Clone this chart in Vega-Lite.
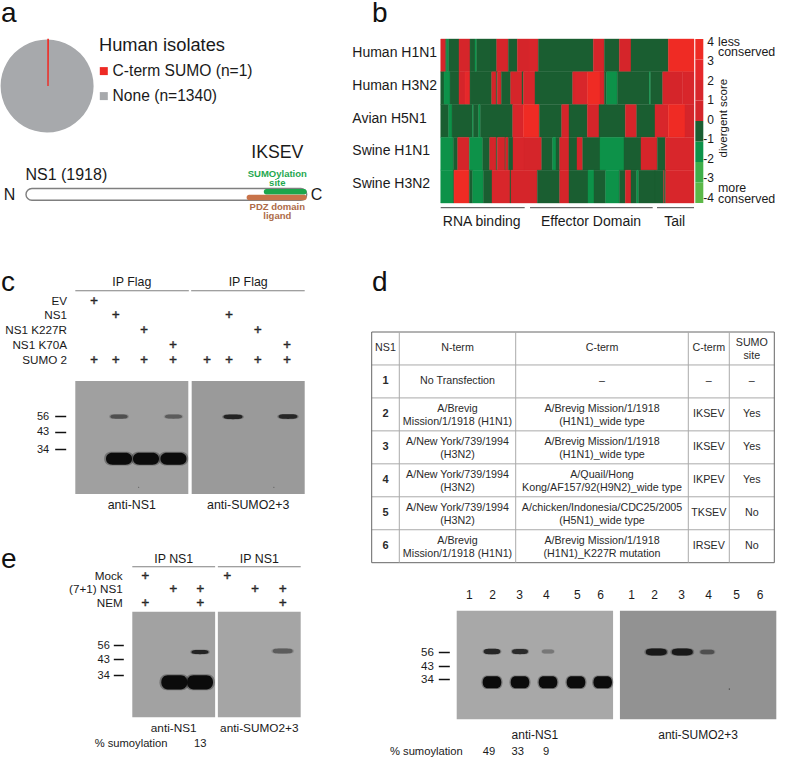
{"$schema":"https://vega.github.io/schema/vega-lite/v6.json","width":800,"height":758,"autosize":{"type":"none"},"padding":0,"background":"white",
"config":{"font":"Liberation Sans","view":{"stroke":null},"text":{"color":"#1a1a1a","baseline":"middle","font":"Liberation Sans","lineBreak":"\n"}},
"datasets":{
"letters":[{"letter":"a","col":1,"row":1},{"letter":"b","col":2,"row":1},{"letter":"c","col":1,"row":2},{"letter":"d","col":2,"row":2},{"letter":"e","col":1,"row":3}],
"isolates":[{"panel":"a","group":"None (n=1340)","n":1340},{"panel":"a","group":"C-term SUMO (n=1)","n":1}],
"sites":[{"feature":"SUMOylation site","start":195,"end":230,"label":"SUMOylation\nsite","residue":206,"level":2.1},{"feature":"PDZ domain ligand","start":181,"end":230,"label":"PDZ domain\nligand","residue":206,"level":-1.15}],
"heat":[
{"r":"Human H1N1","s":0,"e":15,"v":0.5},{"r":"Human H1N1","s":15,"e":18,"v":-0.5},{"r":"Human H1N1","s":18,"e":24,"v":-1.5},{"r":"Human H1N1","s":24,"e":55,"v":-0.5},{"r":"Human H1N1","s":55,"e":88,"v":0.5},{"r":"Human H1N1","s":88,"e":103,"v":-0.5},{"r":"Human H1N1","s":103,"e":108,"v":-1.5},{"r":"Human H1N1","s":108,"e":168,"v":-0.5},{"r":"Human H1N1","s":168,"e":203,"v":0.5},{"r":"Human H1N1","s":203,"e":230,"v":-0.5},{"r":"Human H1N1","s":230,"e":265,"v":0.5},{"r":"Human H1N1","s":265,"e":293,"v":1.5},{"r":"Human H1N1","s":293,"e":458,"v":-0.5},{"r":"Human H1N1","s":458,"e":491,"v":0.5},{"r":"Human H1N1","s":491,"e":536,"v":-0.5},{"r":"Human H1N1","s":536,"e":571,"v":0.5},{"r":"Human H1N1","s":571,"e":683,"v":-0.5},{"r":"Human H1N1","s":683,"e":760,"v":3.5},
{"r":"Human H3N2","s":0,"e":10,"v":-0.5},{"r":"Human H3N2","s":10,"e":28,"v":-1.5},{"r":"Human H3N2","s":28,"e":55,"v":-0.5},{"r":"Human H3N2","s":55,"e":73,"v":0.5},{"r":"Human H3N2","s":73,"e":88,"v":2.5},{"r":"Human H3N2","s":88,"e":153,"v":-0.5},{"r":"Human H3N2","s":153,"e":167,"v":0.5},{"r":"Human H3N2","s":167,"e":170,"v":-0.5},{"r":"Human H3N2","s":170,"e":182,"v":0.5},{"r":"Human H3N2","s":182,"e":210,"v":-0.5},{"r":"Human H3N2","s":210,"e":244,"v":0.5},{"r":"Human H3N2","s":244,"e":248,"v":-0.5},{"r":"Human H3N2","s":248,"e":283,"v":1.5},{"r":"Human H3N2","s":283,"e":396,"v":-0.5},{"r":"Human H3N2","s":396,"e":403,"v":0.5},{"r":"Human H3N2","s":403,"e":441,"v":1.5},{"r":"Human H3N2","s":441,"e":478,"v":3.5},{"r":"Human H3N2","s":478,"e":491,"v":1.5},{"r":"Human H3N2","s":491,"e":498,"v":-0.5},{"r":"Human H3N2","s":498,"e":530,"v":-1.5},{"r":"Human H3N2","s":530,"e":626,"v":-0.5},{"r":"Human H3N2","s":626,"e":630,"v":-1.5},{"r":"Human H3N2","s":630,"e":666,"v":-0.5},{"r":"Human H3N2","s":666,"e":726,"v":0.5},{"r":"Human H3N2","s":726,"e":760,"v":1.5},
{"r":"Avian H5N1","s":0,"e":24,"v":-0.5},{"r":"Avian H5N1","s":24,"e":34,"v":-1.5},{"r":"Avian H5N1","s":34,"e":95,"v":-0.5},{"r":"Avian H5N1","s":95,"e":98,"v":-1.5},{"r":"Avian H5N1","s":98,"e":114,"v":-0.5},{"r":"Avian H5N1","s":114,"e":119,"v":-1.5},{"r":"Avian H5N1","s":119,"e":216,"v":-0.5},{"r":"Avian H5N1","s":216,"e":248,"v":1.5},{"r":"Avian H5N1","s":248,"e":296,"v":3.5},{"r":"Avian H5N1","s":296,"e":363,"v":-0.5},{"r":"Avian H5N1","s":363,"e":385,"v":0.5},{"r":"Avian H5N1","s":385,"e":440,"v":-0.5},{"r":"Avian H5N1","s":440,"e":475,"v":0.5},{"r":"Avian H5N1","s":475,"e":554,"v":-0.5},{"r":"Avian H5N1","s":554,"e":588,"v":0.5},{"r":"Avian H5N1","s":588,"e":643,"v":-0.5},{"r":"Avian H5N1","s":643,"e":683,"v":1.5},{"r":"Avian H5N1","s":683,"e":733,"v":3.5},{"r":"Avian H5N1","s":733,"e":760,"v":0.5},
{"r":"Swine H1N1","s":0,"e":38,"v":-1.5},{"r":"Swine H1N1","s":38,"e":51,"v":-0.5},{"r":"Swine H1N1","s":51,"e":86,"v":0.5},{"r":"Swine H1N1","s":86,"e":126,"v":-1.5},{"r":"Swine H1N1","s":126,"e":147,"v":-0.5},{"r":"Swine H1N1","s":147,"e":167,"v":0.5},{"r":"Swine H1N1","s":167,"e":170,"v":-0.5},{"r":"Swine H1N1","s":170,"e":193,"v":0.5},{"r":"Swine H1N1","s":193,"e":195,"v":-0.5},{"r":"Swine H1N1","s":195,"e":203,"v":0.5},{"r":"Swine H1N1","s":203,"e":217,"v":-0.5},{"r":"Swine H1N1","s":217,"e":250,"v":1.5},{"r":"Swine H1N1","s":250,"e":303,"v":0.5},{"r":"Swine H1N1","s":303,"e":336,"v":-0.5},{"r":"Swine H1N1","s":336,"e":346,"v":-1.5},{"r":"Swine H1N1","s":346,"e":357,"v":-0.5},{"r":"Swine H1N1","s":357,"e":385,"v":0.5},{"r":"Swine H1N1","s":385,"e":409,"v":-0.5},{"r":"Swine H1N1","s":409,"e":426,"v":0.5},{"r":"Swine H1N1","s":426,"e":478,"v":-0.5},{"r":"Swine H1N1","s":478,"e":550,"v":-1.5},{"r":"Swine H1N1","s":550,"e":601,"v":-0.5},{"r":"Swine H1N1","s":601,"e":650,"v":0.5},{"r":"Swine H1N1","s":650,"e":674,"v":-0.5},{"r":"Swine H1N1","s":674,"e":760,"v":1.5},
{"r":"Swine H3N2","s":0,"e":38,"v":-1.5},{"r":"Swine H3N2","s":38,"e":40,"v":-0.5},{"r":"Swine H3N2","s":40,"e":86,"v":3.5},{"r":"Swine H3N2","s":86,"e":96,"v":-0.5},{"r":"Swine H3N2","s":96,"e":128,"v":-1.5},{"r":"Swine H3N2","s":128,"e":154,"v":-0.5},{"r":"Swine H3N2","s":154,"e":208,"v":1.5},{"r":"Swine H3N2","s":208,"e":211,"v":-0.5},{"r":"Swine H3N2","s":211,"e":290,"v":0.5},{"r":"Swine H3N2","s":290,"e":357,"v":-0.5},{"r":"Swine H3N2","s":357,"e":385,"v":0.5},{"r":"Swine H3N2","s":385,"e":442,"v":-0.5},{"r":"Swine H3N2","s":442,"e":460,"v":-1.5},{"r":"Swine H3N2","s":460,"e":495,"v":-0.5},{"r":"Swine H3N2","s":495,"e":536,"v":-1.5},{"r":"Swine H3N2","s":536,"e":554,"v":-0.5},{"r":"Swine H3N2","s":554,"e":571,"v":0.5},{"r":"Swine H3N2","s":571,"e":588,"v":-0.5},{"r":"Swine H3N2","s":588,"e":594,"v":-1.5},{"r":"Swine H3N2","s":594,"e":643,"v":-0.5},{"r":"Swine H3N2","s":643,"e":669,"v":-0.5},{"r":"Swine H3N2","s":669,"e":671,"v":0.5},{"r":"Swine H3N2","s":671,"e":675,"v":-0.5},{"r":"Swine H3N2","s":675,"e":760,"v":1.5}
],
"scoreBins":[{"bar":"score","lo":-4,"hi":-3,"v":-3.5},{"bar":"score","lo":-3,"hi":-2,"v":-2.5},{"bar":"score","lo":-2,"hi":-1,"v":-1.5},{"bar":"score","lo":-1,"hi":0,"v":-0.5},{"bar":"score","lo":0,"hi":1,"v":0.5},{"bar":"score","lo":1,"hi":2,"v":1.5},{"bar":"score","lo":2,"hi":3,"v":2.5},{"bar":"score","lo":3,"hi":4,"v":3.5}],
"scoreTicks":[{"bar":"score","t":"4","v":4},{"bar":"score","t":"3","v":3},{"bar":"score","t":"2","v":2},{"bar":"score","t":"1","v":1},{"bar":"score","t":"0","v":0},{"bar":"score","t":"-1","v":-1},{"bar":"score","t":"-2","v":-2},{"bar":"score","t":"-3","v":-3},{"bar":"score","t":"-4","v":-4}],
"regions":[{"name":"RNA binding","s":0,"e":252,"m":123},{"name":"Effector Domain","s":268,"e":636,"m":451},{"name":"Tail","s":649,"e":760,"m":702}],
"gels":[{"panel":"c","gel":"anti-NS1","ip":"IP Flag"},{"panel":"c","gel":"anti-SUMO2+3","ip":"IP Flag"},{"panel":"e","gel":"anti-NS1","ip":"IP NS1"},{"panel":"e","gel":"anti-SUMO2+3","ip":"IP NS1"},{"panel":"d","gel":"anti-NS1"},{"panel":"d","gel":"anti-SUMO2+3"}],
"conds":[{"panel":"c","cond":"EV"},{"panel":"c","cond":"NS1"},{"panel":"c","cond":"NS1 K227R"},{"panel":"c","cond":"NS1 K70A"},{"panel":"c","cond":"SUMO 2"},{"panel":"e","cond":"Mock"},{"panel":"e","cond":"(7+1) NS1"},{"panel":"e","cond":"NEM"}],
"plus":[{"panel":"c","cond":"EV","lane":1},{"panel":"c","cond":"NS1","lane":2},{"panel":"c","cond":"NS1","lane":6},{"panel":"c","cond":"NS1 K227R","lane":3},{"panel":"c","cond":"NS1 K227R","lane":7},{"panel":"c","cond":"NS1 K70A","lane":4},{"panel":"c","cond":"NS1 K70A","lane":8},{"panel":"c","cond":"SUMO 2","lane":1},{"panel":"c","cond":"SUMO 2","lane":2},{"panel":"c","cond":"SUMO 2","lane":3},{"panel":"c","cond":"SUMO 2","lane":4},{"panel":"c","cond":"SUMO 2","lane":5},{"panel":"c","cond":"SUMO 2","lane":6},{"panel":"c","cond":"SUMO 2","lane":7},{"panel":"c","cond":"SUMO 2","lane":8},
{"panel":"e","cond":"Mock","lane":1},{"panel":"e","cond":"Mock","lane":4},{"panel":"e","cond":"(7+1) NS1","lane":2},{"panel":"e","cond":"(7+1) NS1","lane":3},{"panel":"e","cond":"(7+1) NS1","lane":5},{"panel":"e","cond":"(7+1) NS1","lane":6},{"panel":"e","cond":"NEM","lane":1},{"panel":"e","cond":"NEM","lane":3},{"panel":"e","cond":"NEM","lane":6}],
"bands":[
{"panel":"c","lane":2,"kDa":55.5,"signal":0.45,"species":"SUMO-NS1"},{"panel":"c","lane":4,"kDa":55.5,"signal":0.4,"species":"SUMO-NS1"},{"panel":"c","lane":6,"kDa":55.3,"signal":0.7,"species":"SUMO-NS1"},{"panel":"c","lane":8,"kDa":55.5,"signal":0.65,"species":"SUMO-NS1"},{"panel":"c","lane":2,"kDa":29.2,"signal":1,"species":"NS1"},{"panel":"c","lane":3,"kDa":29.2,"signal":1,"species":"NS1"},{"panel":"c","lane":4,"kDa":29.2,"signal":1,"species":"NS1"},{"panel":"c","lane":2.73,"kDa":14.6,"signal":0.5,"species":"speck"},{"panel":"c","lane":7.53,"kDa":14.6,"signal":0.5,"species":"speck"},
{"panel":"e","lane":3,"kDa":49.5,"signal":0.7,"species":"SUMO-NS1"},{"panel":"e","lane":6,"kDa":50.4,"signal":0.4,"species":"SUMO-NS1"},{"panel":"e","lane":2,"kDa":30.1,"signal":1,"species":"NS1"},{"panel":"e","lane":3,"kDa":30.1,"signal":1,"species":"NS1"},
{"panel":"d","lane":2,"kDa":56.7,"signal":0.65,"species":"SUMO-NS1"},{"panel":"d","lane":3,"kDa":56.7,"signal":0.6,"species":"SUMO-NS1"},{"panel":"d","lane":4,"kDa":56.7,"signal":0.3,"species":"SUMO-NS1"},{"panel":"d","lane":8,"kDa":56.3,"signal":0.85,"species":"SUMO-NS1"},{"panel":"d","lane":9,"kDa":56.3,"signal":0.85,"species":"SUMO-NS1"},{"panel":"d","lane":10,"kDa":56.3,"signal":0.45,"species":"SUMO-NS1"},{"panel":"d","lane":2,"kDa":31.7,"signal":1,"species":"NS1"},{"panel":"d","lane":3,"kDa":31.7,"signal":1,"species":"NS1"},{"panel":"d","lane":4,"kDa":31.7,"signal":1,"species":"NS1"},{"panel":"d","lane":5,"kDa":31.7,"signal":1,"species":"NS1"},{"panel":"d","lane":6,"kDa":31.7,"signal":1,"species":"NS1"},{"panel":"d","lane":10.74,"kDa":26.9,"signal":0.6,"species":"speck"}
],
"laneNumbers":[{"lane":1,"t":"1"},{"lane":2,"t":"2"},{"lane":3,"t":"3"},{"lane":4,"t":"4"},{"lane":5,"t":"5"},{"lane":6,"t":"6"},{"lane":7,"t":"1"},{"lane":8,"t":"2"},{"lane":9,"t":"3"},{"lane":10,"t":"4"},{"lane":11,"t":"5"},{"lane":12,"t":"6"}],
"sumoD":[{"lane":-1.18,"t":"% sumoylation","row":"s"},{"lane":2,"t":"49","row":"s"},{"lane":3,"t":"33","row":"s"},{"lane":4,"t":"9","row":"s"}],
"sumoE":[{"lane":0.49,"t":"% sumoylation","row":"s"},{"lane":3,"t":"13","row":"s"}],
"gridV":[{"col":0,"a":0,"b":7,"k":"outer"},{"col":1,"a":0,"b":7,"k":"inner"},{"col":2,"a":0,"b":7,"k":"inner"},{"col":3,"a":0,"b":7,"k":"inner"},{"col":4,"a":0,"b":7,"k":"inner"},{"col":5,"a":0,"b":7,"k":"outer"}],
"gridH":[{"row":0,"a":0,"b":5,"k":"outer"},{"row":1,"a":0,"b":5,"k":"inner"},{"row":2,"a":0,"b":5,"k":"inner"},{"row":3,"a":0,"b":5,"k":"inner"},{"row":4,"a":0,"b":5,"k":"inner"},{"row":5,"a":0,"b":5,"k":"inner"},{"row":6,"a":0,"b":5,"k":"inner"},{"row":7,"a":0,"b":5,"k":"outer"}],
"cells":[
{"row":0.5,"col":0.5,"t":"NS1"},{"row":0.5,"col":1.5,"t":"N-term"},{"row":0.5,"col":2.5,"t":"C-term"},{"row":0.5,"col":3.5,"t":"C-term"},{"row":0.5,"col":4.5,"t":"SUMO\nsite"},
{"row":1.5,"col":1.5,"t":"No Transfection"},{"row":1.5,"col":2.5,"t":"–"},{"row":1.5,"col":3.5,"t":"–"},{"row":1.5,"col":4.5,"t":"–"},
{"row":2.5,"col":1.5,"t":"A/Brevig\nMission/1/1918 (H1N1)"},{"row":2.5,"col":2.5,"t":"A/Brevig Mission/1/1918\n(H1N1)_wide type"},{"row":2.5,"col":3.5,"t":"IKSEV"},{"row":2.5,"col":4.5,"t":"Yes"},
{"row":3.5,"col":1.5,"t":"A/New York/739/1994\n(H3N2)"},{"row":3.5,"col":2.5,"t":"A/Brevig Mission/1/1918\n(H1N1)_wide type"},{"row":3.5,"col":3.5,"t":"IKSEV"},{"row":3.5,"col":4.5,"t":"Yes"},
{"row":4.5,"col":1.5,"t":"A/New York/739/1994\n(H3N2)"},{"row":4.5,"col":2.5,"t":"A/Quail/Hong\nKong/AF157/92(H9N2)_wide type"},{"row":4.5,"col":3.5,"t":"IKPEV"},{"row":4.5,"col":4.5,"t":"Yes"},
{"row":5.5,"col":1.5,"t":"A/New York/739/1994\n(H3N2)"},{"row":5.5,"col":2.5,"t":"A/chicken/Indonesia/CDC25/2005\n(H5N1)_wide type"},{"row":5.5,"col":3.5,"t":"TKSEV"},{"row":5.5,"col":4.5,"t":"No"},
{"row":6.5,"col":1.5,"t":"A/Brevig\nMission/1/1918 (H1N1)"},{"row":6.5,"col":2.5,"t":"A/Brevig Mission/1/1918\n(H1N1)_K227R mutation"},{"row":6.5,"col":3.5,"t":"IRSEV"},{"row":6.5,"col":4.5,"t":"No"}],
"cellNums":[{"row":1.5,"col":0.5,"t":"1"},{"row":2.5,"col":0.5,"t":"2"},{"row":3.5,"col":0.5,"t":"3"},{"row":4.5,"col":0.5,"t":"4"},{"row":5.5,"col":0.5,"t":"5"},{"row":6.5,"col":0.5,"t":"6"}]
},
"layer":[
{"data":{"name":"letters"},"mark":{"type":"text","fontSize":28,"align":"left","baseline":"alphabetic","color":"#111"},"encoding":{"x":{"field":"col","type":"quantitative","scale":{"domain":[1,2],"range":[1,372]},"axis":null},"y":{"field":"row","type":"quantitative","scale":{"domain":[1,2,3],"range":[22,290.7,568]},"axis":null},"text":{"field":"letter"}}},

{"data":{"name":"isolates"},"mark":{"type":"arc","radius":46.5},"encoding":{"theta":{"field":"n","type":"quantitative","scale":{"domain":[0,1341],"range":[0,6.2832]}},"order":{"field":"n","sort":"ascending"},"x":{"field":"panel","type":"nominal","scale":{"type":"point","domain":["a"],"range":[47.2,47.2]},"axis":null},"y":{"field":"panel","type":"nominal","scale":{"type":"point","domain":["a"],"range":[86,86]},"axis":null},"color":{"field":"group","type":"nominal","scale":{"domain":["C-term SUMO (n=1)","None (n=1340)"],"range":["#ee2a24","#a7a9ac"]},"legend":{"orient":"none","legendX":99,"legendY":37,"title":"Human isolates","titleFontSize":18.3,"titleFontWeight":"normal","titleColor":"#1a1a1a","titlePadding":8,"labelFontSize":15.6,"labelColor":"#1a1a1a","symbolType":"square","symbolSize":64,"symbolOffset":-3,"rowPadding":8,"labelOffset":1}}}},
{"data":{"name":"isolates"},"transform":[{"filter":{"field":"n","lte":1}}],"mark":{"type":"arc","radius":46.5,"color":"#ee2a24","stroke":"#ee2a24","strokeWidth":1.4},"encoding":{"theta":{"field":"n","type":"quantitative","scale":{"domain":[0,1341],"range":[0,6.2832]}},"x":{"field":"panel","type":"nominal","scale":{"type":"point","domain":["a"],"range":[48,48]},"axis":null},"y":{"field":"panel","type":"nominal","scale":{"type":"point","domain":["a"],"range":[86,86]},"axis":null}}},

{"data":{"values":[{"feature":"NS1","start":1,"end":230}]},"mark":{"type":"rect","fill":"white","stroke":"#7f7f7f","strokeWidth":1.4,"cornerRadius":6},"encoding":{"x":{"field":"start","type":"quantitative","scale":{"domain":[1,230],"range":[26,306.7]},"axis":null},"x2":{"field":"end"},"y":{"field":"feature","type":"nominal","scale":{"type":"band","domain":["NS1"],"range":[188.5,200.3],"paddingInner":0,"paddingOuter":0},"axis":null}}},
{"data":{"name":"sites"},"mark":{"type":"rect","cornerRadius":2.5},"encoding":{"x":{"field":"start","type":"quantitative","scale":{"domain":[1,230],"range":[26,306.7]},"axis":null},"x2":{"field":"end"},"y":{"field":"feature","type":"nominal","scale":{"type":"band","domain":["SUMOylation site","PDZ domain ligand"],"range":[189,200.3],"paddingInner":0.06,"paddingOuter":0},"axis":null},"color":{"field":"feature","type":"nominal","scale":{"domain":["SUMOylation site","PDZ domain ligand"],"range":["#1ca64c","#c8734a"]},"legend":null}}},
{"data":{"name":"sites"},"mark":{"type":"text","fontSize":9.5,"fontWeight":"bold","lineHeight":9,"align":"center"},"encoding":{"x":{"field":"residue","type":"quantitative","scale":{"domain":[1,230],"range":[26,306.7]},"axis":null},"y":{"field":"level","type":"quantitative","scale":{"domain":[-10,10],"range":[295,95]},"axis":null},"text":{"field":"label"},"color":{"field":"feature","type":"nominal","scale":{"domain":["SUMOylation site","PDZ domain ligand"],"range":["#1fa84f","#ad6b48"]},"legend":null}}},
{"data":{"values":[{"t":"N","residue":-12.5,"level":0},{"t":"C","residue":238,"level":0},{"t":"NS1 (1918)","residue":33.9,"level":1.97}]},"mark":{"type":"text","fontSize":16,"align":"center"},"encoding":{"x":{"field":"residue","type":"quantitative","scale":{"domain":[1,230],"range":[26,306.7]},"axis":null},"y":{"field":"level","type":"quantitative","scale":{"domain":[-10,10],"range":[295,95]},"axis":null},"text":{"field":"t"}}},
{"data":{"values":[{"t":"IKSEV","residue":206,"level":4.2}]},"mark":{"type":"text","fontSize":17.7,"align":"center"},"encoding":{"x":{"field":"residue","type":"quantitative","scale":{"domain":[1,230],"range":[26,306.7]},"axis":null},"y":{"field":"level","type":"quantitative","scale":{"domain":[-10,10],"range":[295,95]},"axis":null},"text":{"field":"t"}}},

{"data":{"name":"heat"},"mark":{"type":"rect","strokeWidth":0.4},"encoding":{"x":{"field":"s","type":"quantitative","scale":{"domain":[0,760],"range":[440.7,694]},"axis":null},"x2":{"field":"e"},"y":{"field":"r","type":"nominal","sort":null,"scale":{"type":"band","domain":["Human H1N1","Human H3N2","Avian H5N1","Swine H1N1","Swine H3N2"],"range":[39,203],"paddingInner":0,"paddingOuter":0},"axis":null},"color":{"field":"v","type":"quantitative","scale":{"type":"threshold","domain":[-3,-2,-1,0,1,2,3],"range":["#5cb848","#3fae49","#0d9249","#1a5e31","#d5252a","#d8262b","#e6282a","#ef2b24"]},"legend":null},"stroke":{"field":"v","type":"quantitative","scale":{"type":"threshold","domain":[-3,-2,-1,0,1,2,3],"range":["#5cb848","#3fae49","#0d9249","#1a5e31","#d5252a","#d8262b","#e6282a","#ef2b24"]},"legend":null}}},
{"data":{"name":"scoreBins"},"mark":{"type":"rect"},"encoding":{"x":{"field":"bar","type":"nominal","scale":{"type":"band","domain":["score"],"range":[695.3,703.3],"paddingInner":0,"paddingOuter":0},"axis":null},"y":{"field":"lo","type":"quantitative","scale":{"domain":[-4,4],"range":[203,39]},"axis":null},"y2":{"field":"hi"},"color":{"field":"v","type":"quantitative","scale":{"type":"threshold","domain":[-3,-2,-1,0,1,2,3],"range":["#5cb848","#3fae49","#0d9249","#1a5e31","#d5252a","#d8262b","#e6282a","#ef2b24"]},"legend":null}}},
{"data":{"name":"scoreTicks"},"mark":{"type":"text","fontSize":12,"align":"right"},"encoding":{"x":{"field":"bar","type":"nominal","scale":{"type":"point","domain":["score"],"range":[714,714]},"axis":null},"y":{"field":"v","type":"quantitative","scale":{"domain":[-4,4],"range":[198,41.7]},"axis":null},"text":{"field":"t"}}},
{"data":{"values":[{"bar":"score","t":"less\nconserved","v":4.0},{"bar":"score","t":"more\nconserved","v":-3.51}]},"mark":{"type":"text","fontSize":12.4,"align":"left","lineHeight":10.5},"encoding":{"x":{"field":"bar","type":"nominal","scale":{"type":"point","domain":["score"],"range":[718,718]},"axis":null},"y":{"field":"v","type":"quantitative","scale":{"domain":[-4,4],"range":[198,41.7]},"axis":null},"text":{"field":"t"}}},
{"data":{"values":[{"bar":"score","t":"divergent score","v":0.09}]},"mark":{"type":"text","fontSize":11.5,"align":"center","angle":270},"encoding":{"x":{"field":"bar","type":"nominal","scale":{"type":"point","domain":["score"],"range":[724,724]},"axis":null},"y":{"field":"v","type":"quantitative","scale":{"domain":[-4,4],"range":[198,41.7]},"axis":null},"text":{"field":"t"}}},
{"data":{"values":[{"r":"Human H1N1"},{"r":"Human H3N2"},{"r":"Avian H5N1"},{"r":"Swine H1N1"},{"r":"Swine H3N2"}]},"mark":{"type":"text","fontSize":14,"align":"left"},"encoding":{"x":{"datum":0,"type":"quantitative","scale":{"domain":[0,1],"range":[352.3,400]},"axis":null},"y":{"field":"r","type":"nominal","sort":null,"scale":{"type":"point","padding":0,"domain":["Human H1N1","Human H3N2","Avian H5N1","Swine H1N1","Swine H3N2"],"range":[52.7,184.3]},"axis":null},"text":{"field":"r"}}},
{"data":{"name":"regions"},"mark":{"type":"rule","color":"#444","strokeWidth":1},"encoding":{"x":{"field":"s","type":"quantitative","scale":{"domain":[0,760],"range":[440.7,694]},"axis":null},"x2":{"field":"e"},"y":{"datum":0,"type":"quantitative","scale":{"domain":[0,1],"range":[207.7,250]},"axis":null}}},
{"data":{"name":"regions"},"mark":{"type":"text","fontSize":14,"align":"center"},"encoding":{"x":{"field":"m","type":"quantitative","scale":{"domain":[0,760],"range":[440.7,694]},"axis":null},"y":{"datum":0,"type":"quantitative","scale":{"domain":[0,1],"range":[221.7,250]},"axis":null},"text":{"field":"name"}}},

{"data":{"name":"gels"},"transform":[{"filter":{"field":"panel","equal":"c"}}],"mark":{"type":"rect"},"encoding":{"x":{"field":"gel","type":"nominal","scale":{"type":"band","domain":["anti-NS1","anti-SUMO2+3"],"range":[75.3,304.7],"paddingInner":0.029,"paddingOuter":0},"axis":null},"y":{"field":"panel","type":"nominal","scale":{"type":"band","domain":["c"],"range":[381,494],"paddingInner":0,"paddingOuter":0},"axis":null},"color":{"field":"gel","type":"nominal","scale":{"domain":["anti-NS1","anti-SUMO2+3"],"range":["#a0a0a0","#9a9a9a"]},"legend":null}}},
{"data":{"name":"gels"},"transform":[{"filter":{"field":"panel","equal":"c"}}],"mark":{"type":"rect","color":"#808080"},"encoding":{"x":{"field":"gel","type":"nominal","scale":{"type":"band","domain":["anti-NS1","anti-SUMO2+3"],"range":[75.3,304.7],"paddingInner":0.02,"paddingOuter":0},"axis":null},"y":{"field":"panel","type":"nominal","scale":{"type":"band","domain":["c"],"range":[290.2,291.3],"paddingInner":0,"paddingOuter":0},"axis":null}}},
{"data":{"name":"gels"},"transform":[{"filter":{"field":"panel","equal":"c"}}],"mark":{"type":"text","fontSize":12.4,"align":"center"},"encoding":{"x":{"field":"gel","type":"nominal","scale":{"type":"band","domain":["anti-NS1","anti-SUMO2+3"],"range":[75.3,304.7],"paddingInner":0.029,"paddingOuter":0},"axis":null},"y":{"field":"panel","type":"nominal","scale":{"type":"point","domain":["c"],"range":[282.3,282.3]},"axis":null},"text":{"field":"ip"}}},
{"data":{"name":"gels"},"transform":[{"filter":{"field":"panel","equal":"c"}}],"mark":{"type":"text","fontSize":12.4,"align":"center"},"encoding":{"x":{"field":"gel","type":"nominal","scale":{"type":"band","domain":["anti-NS1","anti-SUMO2+3"],"range":[75.3,304.7],"paddingInner":0.029,"paddingOuter":0},"axis":null},"y":{"field":"panel","type":"nominal","scale":{"type":"point","domain":["c"],"range":[504.5,504.5]},"axis":null},"text":{"field":"gel"}}},
{"data":{"name":"conds"},"transform":[{"filter":{"field":"panel","equal":"c"}}],"mark":{"type":"text","fontSize":11.7,"align":"right"},"encoding":{"x":{"field":"panel","type":"nominal","scale":{"type":"point","domain":["c"],"range":[67,67]},"axis":null},"y":{"field":"cond","type":"nominal","sort":null,"scale":{"type":"point","padding":0,"domain":["EV","NS1","NS1 K227R","NS1 K70A","SUMO 2"],"range":[300.5,359.5]},"axis":null},"text":{"field":"cond"}}},
{"data":{"name":"plus"},"transform":[{"filter":{"field":"panel","equal":"c"}}],"mark":{"type":"text","fontSize":13,"align":"center","text":"+","fillOpacity":0,"stroke":"#222222","strokeWidth":0.7},"encoding":{"x":{"field":"lane","type":"quantitative","scale":{"domain":[1,2,3,4,5,6,7,8],"range":[94,115.7,144,173,207,229,257.7,287]},"axis":null},"y":{"field":"cond","type":"nominal","sort":null,"scale":{"type":"point","padding":0,"domain":["EV","NS1","NS1 K227R","NS1 K70A","SUMO 2"],"range":[300.5,359.5]},"axis":null}}},
{"data":{"name":"bands"},"transform":[{"filter":{"field":"panel","equal":"c"}}],"mark":{"type":"point","filled":true,"opacity":0.3,"strokeWidth":0},"encoding":{"x":{"field":"lane","type":"quantitative","scale":{"domain":[1,2,3,4,5,6,7,8],"range":[94,119,146,173.5,207,233,258,288]},"axis":null},"y":{"field":"kDa","type":"quantitative","scale":{"domain":[56,43,34],"range":[416,431.7,449.3]},"axis":null},"size":{"field":"signal","type":"quantitative","scale":{"domain":[0.4,0.7,1],"range":[380,470,880]},"legend":null},"color":{"field":"signal","type":"quantitative","scale":{"domain":[0,0.3,0.6,1],"range":["#999999","#777777","#2a2a2a","#0b0b0b"]},"legend":null},"shape":{"field":"species","type":"nominal","scale":{"domain":["SUMO-NS1","NS1","speck"],"range":["M-1,0 C-1,-0.25 -0.6,-0.25 0,-0.25 C0.6,-0.25 1,-0.25 1,0 C1,0.25 0.6,0.25 0,0.25 C-0.6,0.25 -1,0.25 -1,0 Z","M-1,0 C-1,-0.28 -0.8,-0.46 -0.5,-0.46 L0.5,-0.46 C0.8,-0.46 1,-0.28 1,0 C1,0.28 0.8,0.46 0.5,0.46 L-0.5,0.46 C-0.8,0.46 -1,0.28 -1,0 Z","M-0.06,0 L0,-0.06 L0.06,0 L0,0.06 Z"]},"legend":null}}},
{"data":{"name":"bands"},"transform":[{"filter":{"field":"panel","equal":"c"}}],"mark":{"type":"point","filled":true,"opacity":1,"strokeWidth":0},"encoding":{"x":{"field":"lane","type":"quantitative","scale":{"domain":[1,2,3,4,5,6,7,8],"range":[94,119,146,173.5,207,233,258,288]},"axis":null},"y":{"field":"kDa","type":"quantitative","scale":{"domain":[56,43,34],"range":[416,431.7,449.3]},"axis":{"orient":"left","offset":-65.7,"values":[56,43,34],"domain":false,"grid":false,"title":null,"tickSize":11,"tickWidth":1.5,"tickColor":"#111","labelFontSize":11,"labelColor":"#1a1a1a","labelPadding":6,"labelFont":"Liberation Sans"}},"size":{"field":"signal","type":"quantitative","scale":{"domain":[0.4,0.7,1],"range":[289,361,676]},"legend":null},"color":{"field":"signal","type":"quantitative","scale":{"domain":[0,0.3,0.6,1],"range":["#999999","#777777","#2a2a2a","#0b0b0b"]},"legend":null},"shape":{"field":"species","type":"nominal","scale":{"domain":["SUMO-NS1","NS1","speck"],"range":["M-1,0 C-1,-0.25 -0.6,-0.25 0,-0.25 C0.6,-0.25 1,-0.25 1,0 C1,0.25 0.6,0.25 0,0.25 C-0.6,0.25 -1,0.25 -1,0 Z","M-1,0 C-1,-0.28 -0.8,-0.46 -0.5,-0.46 L0.5,-0.46 C0.8,-0.46 1,-0.28 1,0 C1,0.28 0.8,0.46 0.5,0.46 L-0.5,0.46 C-0.8,0.46 -1,0.28 -1,0 Z","M-0.06,0 L0,-0.06 L0.06,0 L0,0.06 Z"]},"legend":null}}},

{"data":{"name":"gels"},"transform":[{"filter":{"field":"panel","equal":"e"}}],"mark":{"type":"rect"},"encoding":{"x":{"field":"gel","type":"nominal","scale":{"type":"band","domain":["anti-NS1","anti-SUMO2+3"],"range":[132.3,300.7],"paddingInner":0.032,"paddingOuter":0},"axis":null},"y":{"field":"panel","type":"nominal","scale":{"type":"band","domain":["e"],"range":[611.7,717.3],"paddingInner":0,"paddingOuter":0},"axis":null},"color":{"field":"gel","type":"nominal","scale":{"domain":["anti-NS1","anti-SUMO2+3"],"range":["#a2a2a2","#a5a5a5"]},"legend":null}}},
{"data":{"name":"gels"},"transform":[{"filter":{"field":"panel","equal":"e"}}],"mark":{"type":"rect","color":"#808080"},"encoding":{"x":{"field":"gel","type":"nominal","scale":{"type":"band","domain":["anti-NS1","anti-SUMO2+3"],"range":[132.3,300.7],"paddingInner":0.032,"paddingOuter":0},"axis":null},"y":{"field":"panel","type":"nominal","scale":{"type":"band","domain":["e"],"range":[566.2,567.3],"paddingInner":0,"paddingOuter":0},"axis":null}}},
{"data":{"name":"gels"},"transform":[{"filter":{"field":"panel","equal":"e"}}],"mark":{"type":"text","fontSize":12.4,"align":"center"},"encoding":{"x":{"field":"gel","type":"nominal","scale":{"type":"band","domain":["anti-NS1","anti-SUMO2+3"],"range":[132.3,300.7],"paddingInner":0.032,"paddingOuter":0},"axis":null},"y":{"field":"panel","type":"nominal","scale":{"type":"point","domain":["e"],"range":[559,559]},"axis":null},"text":{"field":"ip"}}},
{"data":{"name":"gels"},"transform":[{"filter":{"field":"panel","equal":"e"}}],"mark":{"type":"text","fontSize":11.8,"align":"center"},"encoding":{"x":{"field":"gel","type":"nominal","scale":{"type":"band","domain":["anti-NS1","anti-SUMO2+3"],"range":[132.3,300.7],"paddingInner":0.032,"paddingOuter":0},"axis":null},"y":{"field":"panel","type":"nominal","scale":{"type":"point","domain":["e"],"range":[728.3,728.3]},"axis":null},"text":{"field":"gel"}}},
{"data":{"name":"conds"},"transform":[{"filter":{"field":"panel","equal":"e"}}],"mark":{"type":"text","fontSize":11.7,"align":"right"},"encoding":{"x":{"field":"panel","type":"nominal","scale":{"type":"point","domain":["e"],"range":[122.7,122.7]},"axis":null},"y":{"field":"cond","type":"nominal","sort":null,"scale":{"type":"point","padding":0,"domain":["Mock","(7+1) NS1","NEM"],"range":[575.5,603]},"axis":null},"text":{"field":"cond"}}},
{"data":{"name":"plus"},"transform":[{"filter":{"field":"panel","equal":"e"}}],"mark":{"type":"text","fontSize":13,"align":"center","text":"+","fillOpacity":0,"stroke":"#222222","strokeWidth":0.7},"encoding":{"x":{"field":"lane","type":"quantitative","scale":{"domain":[1,2,3,4,5,6],"range":[145.3,173.3,200.3,227.3,255,282.7]},"axis":null},"y":{"field":"cond","type":"nominal","sort":null,"scale":{"type":"point","padding":0,"domain":["Mock","(7+1) NS1","NEM"],"range":[575.5,603]},"axis":null}}},
{"data":{"name":"bands"},"transform":[{"filter":{"field":"panel","equal":"e"}}],"mark":{"type":"point","filled":true,"opacity":0.3,"strokeWidth":0},"encoding":{"x":{"field":"lane","type":"quantitative","scale":{"domain":[1,2,3,4,5,6],"range":[145,174.3,200,227,255,282.7]},"axis":null},"y":{"field":"kDa","type":"quantitative","scale":{"domain":[56,43,34],"range":[645,659,675.3]},"axis":null},"size":{"field":"signal","type":"quantitative","scale":{"domain":[0.4,0.7,1],"range":[520,380,880]},"legend":null},"color":{"field":"signal","type":"quantitative","scale":{"domain":[0,0.3,0.6,1],"range":["#999999","#777777","#2a2a2a","#0b0b0b"]},"legend":null},"shape":{"field":"species","type":"nominal","scale":{"domain":["SUMO-NS1","NS1"],"range":["M-1,0 C-1,-0.25 -0.6,-0.25 0,-0.25 C0.6,-0.25 1,-0.25 1,0 C1,0.25 0.6,0.25 0,0.25 C-0.6,0.25 -1,0.25 -1,0 Z","M-1,0 C-1,-0.33 -0.8,-0.54 -0.5,-0.54 L0.5,-0.54 C0.8,-0.54 1,-0.33 1,0 C1,0.33 0.8,0.54 0.5,0.54 L-0.5,0.54 C-0.8,0.54 -1,0.33 -1,0 Z"]},"legend":null}}},
{"data":{"name":"bands"},"transform":[{"filter":{"field":"panel","equal":"e"}}],"mark":{"type":"point","filled":true,"opacity":1,"strokeWidth":0},"encoding":{"x":{"field":"lane","type":"quantitative","scale":{"domain":[1,2,3,4,5,6],"range":[145,174.3,200,227,255,282.7]},"axis":null},"y":{"field":"kDa","type":"quantitative","scale":{"domain":[56,43,34],"range":[645,659,675.3]},"axis":{"orient":"left","offset":-123.3,"values":[56,43,34],"domain":false,"grid":false,"title":null,"tickSize":10,"tickWidth":1.5,"tickColor":"#111","labelFontSize":11,"labelColor":"#1a1a1a","labelPadding":4,"labelFont":"Liberation Sans"}},"size":{"field":"signal","type":"quantitative","scale":{"domain":[0.4,0.7,1],"range":[400,289,676]},"legend":null},"color":{"field":"signal","type":"quantitative","scale":{"domain":[0,0.3,0.6,1],"range":["#999999","#777777","#2a2a2a","#0b0b0b"]},"legend":null},"shape":{"field":"species","type":"nominal","scale":{"domain":["SUMO-NS1","NS1"],"range":["M-1,0 C-1,-0.25 -0.6,-0.25 0,-0.25 C0.6,-0.25 1,-0.25 1,0 C1,0.25 0.6,0.25 0,0.25 C-0.6,0.25 -1,0.25 -1,0 Z","M-1,0 C-1,-0.33 -0.8,-0.54 -0.5,-0.54 L0.5,-0.54 C0.8,-0.54 1,-0.33 1,0 C1,0.33 0.8,0.54 0.5,0.54 L-0.5,0.54 C-0.8,0.54 -1,0.33 -1,0 Z"]},"legend":null}}},
{"data":{"name":"sumoE"},"mark":{"type":"text","fontSize":11.2,"align":"center"},"encoding":{"x":{"field":"lane","type":"quantitative","scale":{"domain":[1,2,3,4,5,6],"range":[145.3,173.3,200.3,227.3,255,282.7]},"axis":null},"y":{"field":"row","type":"nominal","scale":{"type":"point","domain":["s"],"range":[744,744]},"axis":null},"text":{"field":"t"}}},

{"data":{"name":"gridH"},"mark":{"type":"rule","strokeWidth":1},"encoding":{"x":{"field":"a","type":"quantitative","scale":{"domain":[0,1,2,3,4,5],"range":[371.7,399.3,515.7,688.3,729.3,774.3]},"axis":null},"x2":{"field":"b"},"y":{"field":"row","type":"quantitative","scale":{"domain":[0,7],"range":[332,562.7]},"axis":null},"color":{"field":"k","type":"nominal","scale":{"domain":["outer","inner"],"range":["#666666","#aaaaaa"]},"legend":null}}},
{"data":{"name":"gridV"},"mark":{"type":"rule","strokeWidth":1},"encoding":{"x":{"field":"col","type":"quantitative","scale":{"domain":[0,1,2,3,4,5],"range":[371.7,399.3,515.7,688.3,729.3,774.3]},"axis":null},"y":{"field":"a","type":"quantitative","scale":{"domain":[0,7],"range":[332,562.7]},"axis":null},"y2":{"field":"b"},"color":{"field":"k","type":"nominal","scale":{"domain":["outer","inner"],"range":["#666666","#aaaaaa"]},"legend":null}}},
{"data":{"name":"cells"},"transform":[{"filter":"indexof(datum.t,'\\n')<0"}],"mark":{"type":"text","fontSize":10.7,"align":"center","color":"#2a2a2a"},"encoding":{"x":{"field":"col","type":"quantitative","scale":{"domain":[0,1,2,3,4,5],"range":[371.7,399.3,515.7,688.3,729.3,774.3]},"axis":null},"y":{"field":"row","type":"quantitative","scale":{"domain":[0,7],"range":[332,562.7]},"axis":null},"text":{"field":"t"}}},
{"data":{"name":"cells"},"transform":[{"filter":"indexof(datum.t,'\\n')>=0"}],"mark":{"type":"text","fontSize":10.7,"align":"center","lineHeight":13,"dy":-5,"color":"#2a2a2a"},"encoding":{"x":{"field":"col","type":"quantitative","scale":{"domain":[0,1,2,3,4,5],"range":[371.7,399.3,515.7,688.3,729.3,774.3]},"axis":null},"y":{"field":"row","type":"quantitative","scale":{"domain":[0,7],"range":[332,562.7]},"axis":null},"text":{"field":"t"}}},
{"data":{"name":"cellNums"},"mark":{"type":"text","fontSize":11,"fontWeight":"bold","align":"center","color":"#2a2a2a"},"encoding":{"x":{"field":"col","type":"quantitative","scale":{"domain":[0,1,2,3,4,5],"range":[371.7,399.3,515.7,688.3,729.3,774.3]},"axis":null},"y":{"field":"row","type":"quantitative","scale":{"domain":[0,7],"range":[332,562.7]},"axis":null},"text":{"field":"t"}}},

{"data":{"name":"gels"},"transform":[{"filter":{"field":"panel","equal":"d"}}],"mark":{"type":"rect"},"encoding":{"x":{"field":"gel","type":"nominal","scale":{"type":"band","domain":["anti-NS1","anti-SUMO2+3"],"range":[456.7,776.3],"paddingInner":0.042,"paddingOuter":0},"axis":null},"y":{"field":"panel","type":"nominal","scale":{"type":"band","domain":["d"],"range":[610.7,719.3],"paddingInner":0,"paddingOuter":0},"axis":null},"color":{"field":"gel","type":"nominal","scale":{"domain":["anti-NS1","anti-SUMO2+3"],"range":["#a8a8a8","#929292"]},"legend":null}}},
{"data":{"name":"gels"},"transform":[{"filter":{"field":"panel","equal":"d"}}],"mark":{"type":"text","fontSize":12,"align":"center"},"encoding":{"x":{"field":"gel","type":"nominal","scale":{"type":"band","domain":["anti-NS1","anti-SUMO2+3"],"range":[456.7,776.3],"paddingInner":0.042,"paddingOuter":0},"axis":null},"y":{"field":"panel","type":"nominal","scale":{"type":"point","domain":["d"],"range":[735.3,735.3]},"axis":null},"text":{"field":"gel"}}},
{"data":{"name":"laneNumbers"},"mark":{"type":"text","fontSize":12,"align":"center"},"encoding":{"x":{"field":"lane","type":"quantitative","scale":{"domain":[1,2,3,4,5,6,7,8,9,10,11,12],"range":[469.3,492.7,519.7,546.3,577.3,600.7,631.7,654.7,681.7,708.7,736.7,760]},"axis":null},"y":{"datum":0,"type":"quantitative","scale":{"domain":[0,1],"range":[595,650]},"axis":null},"text":{"field":"t"}}},
{"data":{"name":"bands"},"transform":[{"filter":{"field":"panel","equal":"d"}}],"mark":{"type":"point","filled":true,"opacity":0.3,"strokeWidth":0},"encoding":{"x":{"field":"lane","type":"quantitative","scale":{"domain":[1,2,3,4,5,6,7,8,9,10,11,12],"range":[469,492,520,548,576,602.7,632,656.3,682.3,707.3,737,760]},"axis":null},"y":{"field":"kDa","type":"quantitative","scale":{"domain":[56,43,34],"range":[652.3,666.3,679]},"axis":null},"size":{"field":"signal","type":"quantitative","scale":{"domain":[0.3,0.65,0.85,1],"range":[190,354,573,445]},"legend":null},"color":{"field":"signal","type":"quantitative","scale":{"domain":[0,0.3,0.6,1],"range":["#999999","#777777","#2a2a2a","#0b0b0b"]},"legend":null},"shape":{"field":"species","type":"nominal","scale":{"domain":["SUMO-NS1","NS1","speck"],"range":["M-1,0 C-1,-0.33 -0.6,-0.33 0,-0.33 C0.6,-0.33 1,-0.33 1,0 C1,0.33 0.6,0.33 0,0.33 C-0.6,0.33 -1,0.33 -1,0 Z","M-1,0 C-1,-0.4 -0.8,-0.65 -0.45,-0.65 L0.45,-0.65 C0.8,-0.65 1,-0.4 1,0 C1,0.4 0.8,0.65 0.45,0.65 L-0.45,0.65 C-0.8,0.65 -1,0.4 -1,0 Z","M-0.08,0 L0,-0.08 L0.08,0 L0,0.08 Z"]},"legend":null}}},
{"data":{"name":"bands"},"transform":[{"filter":{"field":"panel","equal":"d"}}],"mark":{"type":"point","filled":true,"opacity":1,"strokeWidth":0},"encoding":{"x":{"field":"lane","type":"quantitative","scale":{"domain":[1,2,3,4,5,6,7,8,9,10,11,12],"range":[469,492,520,548,576,602.7,632,656.3,682.3,707.3,737,760]},"axis":null},"y":{"field":"kDa","type":"quantitative","scale":{"domain":[56,43,34],"range":[652.3,666.3,679]},"axis":{"orient":"left","offset":-449.3,"values":[56,43,34],"domain":false,"grid":false,"title":null,"tickSize":11,"tickWidth":1.5,"tickColor":"#111","labelFontSize":11.5,"labelColor":"#1a1a1a","labelPadding":5,"labelFont":"Liberation Sans"}},"size":{"field":"signal","type":"quantitative","scale":{"domain":[0.3,0.65,0.85,1],"range":[144,272,441,342]},"legend":null},"color":{"field":"signal","type":"quantitative","scale":{"domain":[0,0.3,0.6,1],"range":["#999999","#777777","#2a2a2a","#0b0b0b"]},"legend":null},"shape":{"field":"species","type":"nominal","scale":{"domain":["SUMO-NS1","NS1","speck"],"range":["M-1,0 C-1,-0.33 -0.6,-0.33 0,-0.33 C0.6,-0.33 1,-0.33 1,0 C1,0.33 0.6,0.33 0,0.33 C-0.6,0.33 -1,0.33 -1,0 Z","M-1,0 C-1,-0.4 -0.8,-0.65 -0.45,-0.65 L0.45,-0.65 C0.8,-0.65 1,-0.4 1,0 C1,0.4 0.8,0.65 0.45,0.65 L-0.45,0.65 C-0.8,0.65 -1,0.4 -1,0 Z","M-0.08,0 L0,-0.08 L0.08,0 L0,0.08 Z"]},"legend":null}}},
{"data":{"name":"sumoD"},"mark":{"type":"text","fontSize":11.2,"align":"center"},"encoding":{"x":{"field":"lane","type":"quantitative","scale":{"domain":[1,2,3,4,5,6,7,8,9,10,11,12],"range":[469.3,489,517.7,546,577.3,600.7,631.7,654.7,681.7,708.7,736.7,760]},"axis":null},"y":{"field":"row","type":"nominal","scale":{"type":"point","domain":["s"],"range":[751.7,751.7]},"axis":null},"text":{"field":"t"}}}
],
"resolve":{"scale":{"x":"independent","y":"independent","color":"independent","stroke":"independent","size":"independent","shape":"independent","theta":"independent"},"axis":{"x":"independent","y":"independent"},"legend":{"color":"independent","stroke":"independent","size":"independent","shape":"independent"}}
}
